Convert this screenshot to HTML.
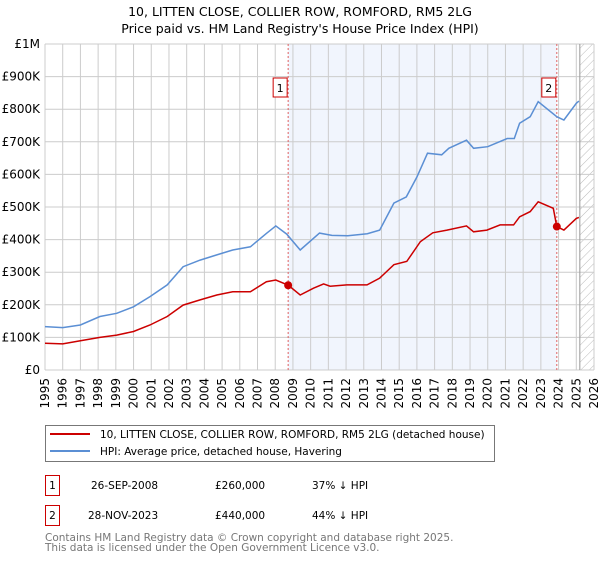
<!DOCTYPE html>
<html><head><meta charset="utf-8"><style>
body{margin:0;background:#fff;font-family:"DejaVu Sans","Liberation Sans",sans-serif;}
svg text{font-family:"DejaVu Sans","Liberation Sans",sans-serif;}
</style></head><body>
<svg id="c" width="600" height="560" xmlns="http://www.w3.org/2000/svg">
<defs><pattern id="hatch" width="6" height="6" patternUnits="userSpaceOnUse" patternTransform="rotate(45)"><line x1="0" y1="0" x2="0" y2="6" stroke="#bbb" stroke-width="1"/></pattern></defs>
<text x="300" y="16" text-anchor="middle" font-size="12.5">10, LITTEN CLOSE, COLLIER ROW, ROMFORD, RM5 2LG</text>
<text x="300" y="33" text-anchor="middle" font-size="12.5">Price paid vs. HM Land Registry's House Price Index (HPI)</text>
<g id="plot"></g>
<g>
<rect x="45.5" y="425.5" width="449" height="36" fill="#fff" stroke="#777"/>
<line x1="50" y1="434" x2="90" y2="434" stroke="#cc0000" stroke-width="2"/>
<text x="100" y="438" font-size="10.5">10, LITTEN CLOSE, COLLIER ROW, ROMFORD, RM5 2LG (detached house)</text>
<line x1="50" y1="451" x2="90" y2="451" stroke="#5b8fd4" stroke-width="2"/>
<text x="100" y="455" font-size="10.5">HPI: Average price, detached house, Havering</text>
</g>
<g font-size="10.5">
<rect x="45.5" y="475.5" width="14" height="20" fill="#fff" stroke="#cc0000"/><text x="52.5" y="489" text-anchor="middle">1</text>
<text x="91" y="489">26-SEP-2008</text><text x="215" y="489">£260,000</text><text x="312" y="489">37% ↓ HPI</text>
<rect x="45.5" y="505.5" width="14" height="20" fill="#fff" stroke="#cc0000"/><text x="52.5" y="519" text-anchor="middle">2</text>
<text x="88" y="519">28-NOV-2023</text><text x="215" y="519">£440,000</text><text x="312" y="519">44% ↓ HPI</text>
</g>
<text x="45" y="541" font-size="10.5" fill="#777">Contains HM Land Registry data © Crown copyright and database right 2025.</text>
<text x="45" y="551" font-size="10.5" fill="#777">This data is licensed under the Open Government Licence v3.0.</text>
</svg>
<script>
const yearTicks=[1995,1996,1997,1998,1999,2000,2001,2002,2003,2004,2005,2006,2007,2008,2009,2010,2011,2012,2013,2014,2015,2016,2017,2018,2019,2020,2021,2022,2023,2024,2025,2026];
const valueTicks=[0,100000,200000,300000,400000,500000,600000,700000,800000,900000,1000000];
const valueLabels=["£0","£100K","£200K","£300K","£400K","£500K","£600K","£700K","£800K","£900K","£1M"];
const hpiYears=[1995,1996,1997,1998.1,1999.05,2000,2000.93,2001.9,2002.8,2003.76,2004.7,2005.6,2006.6,2007.5,2008.03,2008.65,2009.41,2010.5,2011.2,2012.1,2013.2,2013.9,2014.7,2015.4,2016.0,2016.6,2017.4,2017.8,2018.8,2019.2,2020.0,2021.1,2021.5,2021.8,2022.4,2022.85,2023.9,2024.3,2025.0,2025.15];
const hpiValues=[133000,130000,138000,164000,174000,194000,225000,261000,317000,337000,353000,368000,378000,419000,442000,417000,368000,420000,413000,412000,418000,429000,512000,531000,592000,665000,660000,680000,705000,680000,685000,710000,710000,757000,777000,823000,777000,767000,818000,825000];
const priceYears=[1995,1996,1997,1998.1,1999.05,2000,2000.93,2001.9,2002.8,2003.76,2004.7,2005.6,2006.6,2007.5,2008.03,2008.73,2009.41,2010.16,2010.73,2011.1,2012.05,2013.18,2013.9,2014.7,2015.43,2016.2,2016.9,2017.7,2018.8,2019.2,2019.95,2020.7,2021.46,2021.8,2022.4,2022.85,2023.7,2023.9,2024.3,2025.0,2025.15];
const priceValues=[82000,80000,90000,100000,107000,118000,138000,164000,199000,215000,230000,240000,240000,271000,276000,260000,230000,251000,264000,257000,261000,261000,282000,323000,333000,394000,421000,429000,442000,424000,429000,445000,445000,470000,486000,516000,496000,440000,429000,465000,468000];
const saleYears=[2008.73,2023.9];
const saleValues=[260000,440000];
const saleLabels=["1","2"];
const X0=45,X1=594,Y0=370,Y1=44;
const xs=y=>X0+(y-1995)/(2026-1995)*(X1-X0);
const ys=v=>Y0-v/1000000*(Y0-Y1);
const NS="http://www.w3.org/2000/svg";
const g=document.getElementById('plot');
function mk(t,a){const e=document.createElementNS(NS,t);for(const k in a)e.setAttribute(k,a[k]);g.appendChild(e);return e;}
let r=mk('rect',{x:xs(saleYears[0]),y:Y1,width:xs(saleYears[1])-xs(saleYears[0]),height:Y0-Y1,fill:'#eef3fd',opacity:0.8});


let h=mk('rect',{x:xs(2025.2),y:Y1,width:X1-xs(2025.2),height:Y0-Y1,fill:'url(#hatch)'});


yearTicks.forEach(yr=>{
 const x=xs(yr);
 let l=mk('line',{x1:x,y1:Y1,x2:x,y2:Y0,stroke:'#ccc','stroke-width':1});
 
 
 let t=mk('text',{x:0,y:0,'font-size':12,'text-anchor':'end',transform:`translate(${x+4},${Y0+8}) rotate(-90)`});
 t.textContent=yr;
 
 
});
valueTicks.forEach((v,i)=>{
 const y=ys(v);
 let l=mk('line',{x1:X0,y1:y,x2:X1,y2:y,stroke:'#ccc','stroke-width':1});
 
 
 let t=mk('text',{x:X0-5,y:y+4,'font-size':12,'text-anchor':'end'});
 t.textContent=valueLabels[i];
 
 
});
let ed=mk('line',{x1:xs(2025.2),y1:Y1,x2:xs(2025.2),y2:Y0,stroke:'#999','stroke-width':1});


saleYears.forEach((yr,i)=>{
 const x=xs(yr);
 let l=mk('line',{x1:x,y1:Y1,x2:x,y2:Y0,stroke:'#e06060','stroke-width':1,'stroke-dasharray':'2,2'});
 
 
 let b=mk('rect',{x:x-15,y:78,width:14,height:19,fill:'#fff',stroke:'#cc0000'});
 
 
 let t=mk('text',{x:x-8,y:92,'font-size':11,'text-anchor':'middle'});
 t.textContent=saleLabels[i];
 
 
});
const pts=(a,b)=>a.map((yr,i)=>xs(yr).toFixed(1)+','+ys(b[i]).toFixed(1)).join(' ');
let hp=mk('polyline',{points:pts(hpiYears,hpiValues),fill:'none',stroke:'#5b8fd4','stroke-width':1.5});


let pp=mk('polyline',{points:pts(priceYears,priceValues),fill:'none',stroke:'#cc0000','stroke-width':1.5});


saleYears.forEach((yr,i)=>{
 let c=mk('circle',{cx:xs(yr),cy:ys(saleValues[i]),r:4,fill:'#cc0000'});
 
 
});
</script>
</body></html>
